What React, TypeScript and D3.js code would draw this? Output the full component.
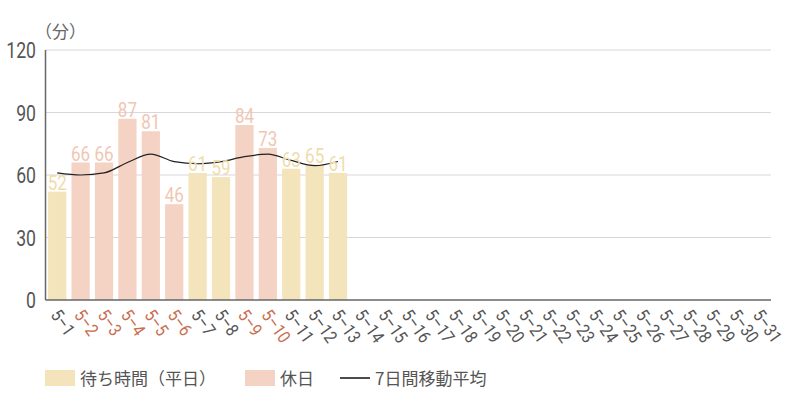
import React from "react";
import * as d3 from "d3";

const days: string[] = Array.from({ length: 31 }, (_, i) => `5–${i + 1}`);
const waitValues: number[] = [52, 66, 66, 87, 81, 46, 61, 59, 84, 73, 63, 65, 61];
const holidayDays: string[] = ["5–2", "5–3", "5–4", "5–5", "5–6", "5–9", "5–10"];
const movingAvg: number[] = [61, 60, 61, 66, 70, 66.4, 65.4, 66.4, 68.8, 70, 67, 64.5, 66.5];
const yTicks: number[] = [0, 30, 60, 90, 120];

const W = 800, H = 400;
const M = { left: 45.5, right: 29, top: 50, bottom: 100 };

const WEEKDAY = "#f3e4bc";
const HOLIDAY = "#f4d3c5";
const WEEKDAY_LBL = "#efdcaa";
const HOLIDAY_LBL = "#f0c6b3";
const NUM_FONT = "Roboto,sans-serif";
const JP_FONT = "'Noto Sans CJK JP',sans-serif";

export default function App() {
  const x = d3.scaleBand<string>().domain(days).range([M.left, W - M.right]).paddingInner(0.22).paddingOuter(0.11);
  const y = d3.scaleLinear().domain([0, 120]).range([H - M.bottom, M.top]);
  const isHoliday = (d: string) => holidayDays.includes(d);
  const cx = (i: number) => (x(days[i]) as number) + x.bandwidth() / 2;
  const line = d3.line<number>().x((_, i) => cx(i)).y((v) => y(v)).curve(d3.curveMonotoneX);

  return (
    <svg width={W} height={H} style={{ position: "absolute", left: 0, top: 0, background: "#fff" }}>
      {yTicks.map((t) => (
        <g key={t}>
          {t > 0 && <line x1={M.left} x2={W - M.right} y1={y(t)} y2={y(t)} stroke="#d9d6dc" strokeWidth={1.2} />}
          <text transform={`translate(36,${y(t) + 8}) scale(0.8,1)`} textAnchor="end" fontFamily={NUM_FONT} fontSize={22} fill="#555">{t}</text>
        </g>
      ))}
      <text x={35} y={38} fontFamily={JP_FONT} fontSize={17} fill="#666">（分）</text>
      {waitValues.map((v, i) => (
        <rect key={i} x={x(days[i])} y={y(v)} width={x.bandwidth()} height={y(0) - y(v)} fill={isHoliday(days[i]) ? HOLIDAY : WEEKDAY} />
      ))}
      <path d={line(movingAvg) || ""} fill="none" stroke="#222" strokeWidth={1.2} />
      {waitValues.map((v, i) => (
        <text key={i} transform={`translate(${cx(i)},${y(v) - 2}) scale(0.85,1)`} textAnchor="middle" fontFamily={NUM_FONT} fontSize={20} fill={isHoliday(days[i]) ? HOLIDAY_LBL : WEEKDAY_LBL}>{v}</text>
      ))}
      <line x1={M.left} x2={M.left} y1={M.top} y2={H - M.bottom} stroke="#666" strokeWidth={1.5} />
      <line x1={M.left} x2={W - M.right} y1={H - M.bottom} y2={H - M.bottom} stroke="#666" strokeWidth={1.5} />
      {days.map((d) => (
        <text key={d} transform={`translate(${(x(d) as number) + 2},${H - M.bottom + 15}) rotate(55) scale(0.85,1)`} fontFamily={NUM_FONT} fontSize={18} fill={isHoliday(d) ? "#c96e50" : "#555"}>{d}</text>
      ))}
      <rect x={45} y={370} width={30} height={16} fill={WEEKDAY} />
      <text x={80} y={385} fontFamily={JP_FONT} fontSize={17} fill="#555">待ち時間（平日）</text>
      <rect x={245} y={370} width={30} height={16} fill={HOLIDAY} />
      <text x={280} y={385} fontFamily={JP_FONT} fontSize={17} fill="#555">休日</text>
      <line x1={340} x2={370} y1={378} y2={378} stroke="#111" strokeWidth={1.5} />
      <text x={375} y={385} fontFamily={JP_FONT} fontSize={17} fill="#555">7日間移動平均</text>
    </svg>
  );
}
